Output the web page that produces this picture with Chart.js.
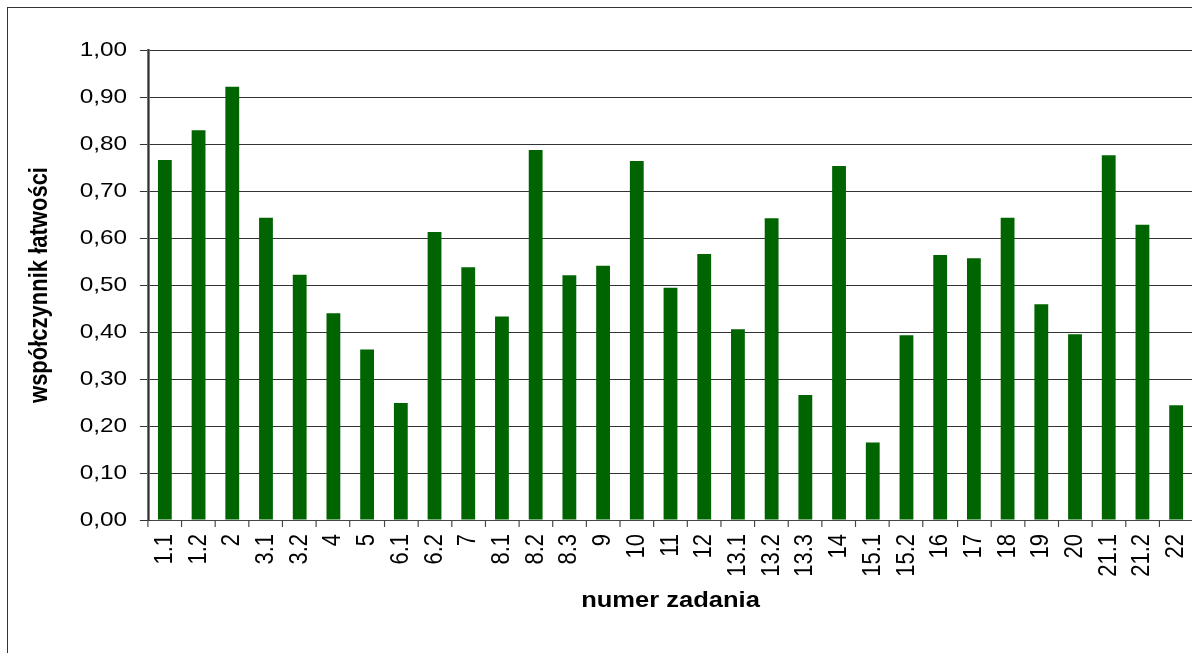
<!DOCTYPE html>
<html>
<head>
<meta charset="utf-8">
<script src="https://cdn.jsdelivr.net/npm/chart.js@4/dist/chart.umd.min.js"></script>
<style>
  html, body { margin: 0; padding: 0; background: #fff; overflow: hidden; width: 1192px; height: 653px; }
  #wrap { position: relative; width: 1192px; height: 653px; overflow: hidden; }
  #frame { position: absolute; left: 7px; top: 7px; width: 1300px; height: 800px; border: 1px solid #333; box-sizing: border-box; pointer-events: none; }
  canvas { position: absolute; left: 0; top: 0; }
</style>
</head>
<body>
<div id="wrap">
  <div id="frame"></div>
  <canvas id="c" width="1200" height="653"></canvas>
</div>
<script>
const categories = ['1.1','1.2','2','3.1','3.2','4','5','6.1','6.2','7','8.1','8.2','8.3','9','10','11','12','13.1','13.2','13.3','14','15.1','15.2','16','17','18','19','20','21.1','21.2','22'];
const values = [0.766,0.829,0.922,0.643,0.522,0.440,0.363,0.249,0.613,0.538,0.433,0.787,0.521,0.541,0.764,0.494,0.566,0.406,0.642,0.266,0.753,0.165,0.393,0.564,0.557,0.643,0.459,0.395,0.776,0.628,0.244];
const yTickLabels = ['0,00','0,10','0,20','0,30','0,40','0,50','0,60','0,70','0,80','0,90','1,00'];
const yTitle = 'współczynnik łatwości';
const xTitle = 'numer zadania';

const FONT = '"Liberation Sans", Arial, sans-serif';
// the reference picture is horizontally stretched; reproduce that with a canvas transform
const SX = 1.16;
const stretchPlugin = {
  id: 'stretch',
  beforeDraw(chart) { chart.ctx.save(); chart.ctx.transform(SX, 0, 0, 1, 0, 0); },
  afterDraw(chart) { chart.ctx.restore(); }
};

new Chart(document.getElementById('c'), {
  type: 'bar',
  data: {
    labels: categories,
    datasets: [{
      data: values,
      backgroundColor: '#006400',
      borderWidth: 0,
      barPercentage: 0.41,
      categoryPercentage: 1.0
    }]
  },
  plugins: [stretchPlugin],
  options: {
    responsive: false,
    animation: false,
    devicePixelRatio: 1,
    layout: { padding: { top: 50, right: 1200 - 1193 / SX, left: 0, bottom: 0 } },
    plugins: { legend: { display: false }, tooltip: { enabled: false } },
    scales: {
      x: {
        offset: true,
        afterFit: s => { s.height = 133; },
        grid: { display: true, drawOnChartArea: false, drawTicks: true, tickLength: 7, color: '#444', offset: true },
        border: { display: true, color: '#444', width: 1 },
        ticks: {
          autoSkip: false, minRotation: 90, maxRotation: 90, padding: 7,
          color: '#000', font: { family: FONT, size: 22 }
        },
        title: {
          display: true, text: xTitle, color: '#000',
          font: { family: FONT, size: 22, weight: 'bold' },
          padding: { top: 0, bottom: 39 }
        }
      },
      y: {
        min: 0, max: 1,
        afterFit: s => { s.width = 148 / SX; },
        grid: { color: '#333', lineWidth: 1, drawTicks: true, tickLength: 7 },
        border: { display: true, color: '#333', width: 2 },
        ticks: {
          stepSize: 0.1, padding: 11, color: '#000',
          font: { family: FONT, size: 21 },
          callback: (v, i) => yTickLabels[i]
        },
        title: {
          display: true, text: yTitle, color: '#000',
          font: { family: FONT, size: 22, weight: 'bold' },
          padding: { top: 21, bottom: 0 }
        }
      }
    }
  }
});
</script>
</body>
</html>
